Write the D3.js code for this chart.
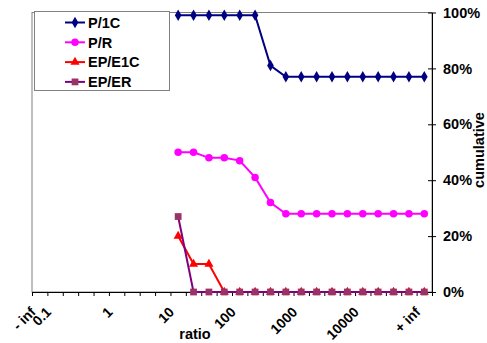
<!DOCTYPE html>
<meta charset="utf-8">
<script src="https://d3js.org/d3.v7.min.js"></script>
<style>
  body { margin: 0; background: #fff; }
  text { font-family: "Liberation Sans", Arial, sans-serif; font-weight: bold; }
</style>
<body>
<div id="chart"></div>
<script>
// categories on the ratio axis (26 slots, most unlabeled)
const ratioLabels = ["- inf", "0.1", "", "", "", "1", "", "", "", "10", "", "", "", "100",
  "", "", "", "1000", "", "", "", "10000", "", "", "", "+ inf"];
// series start at the "10" category
const firstCat = 9;
const seriesNames = ["P/1C", "P/R", "EP/E1C", "EP/ER"];
const p1c  = [99, 99, 99, 99, 99, 99, 81, 77, 77, 77, 77, 77, 77, 77, 77, 77, 77];
const pr   = [50, 50, 48, 48, 47, 41, 32, 28, 28, 28, 28, 28, 28, 28, 28, 28, 28];
const ep1c = [20, 10, 10, 0, 0, 0, 0, 0, 0, 0, 0, 0, 0, 0, 0, 0, 0];
const eper = [27, 0, 0, 0, 0, 0, 0, 0, 0, 0, 0, 0, 0, 0, 0, 0, 0];
const yTicks = [0, 20, 40, 60, 80, 100];

const W = 487, H = 343;
const L = 32, R = 432, T = 12.5, B = 292;

const svg = d3.select("#chart").append("svg")
  .attr("width", W).attr("height", H);

const x = d3.scaleBand()
  .domain(d3.range(ratioLabels.length))
  .range([L, R])
  .padding(0);
const xEdge = d3.scaleLinear()
  .domain([0, ratioLabels.length])
  .range([L, R]);
const y = d3.scaleLinear()
  .domain([0, 100])
  .range([B, T]);

// plot area border
svg.append("rect")
  .attr("x", L).attr("y", T)
  .attr("width", R - L).attr("height", B - T)
  .attr("fill", "none")
  .attr("stroke", "#808080")
  .attr("stroke-width", 1);

// bottom axis: ticks at category edges
svg.append("g")
  .attr("transform", `translate(0,${B})`)
  .call(d3.axisBottom(xEdge).tickValues(d3.range(ratioLabels.length + 1))
    .tickFormat("").tickSizeInner(4).tickSizeOuter(0))
  .call(g => g.selectAll("line, path").attr("stroke", "#000"));

// bottom labels, rotated
const xLab = svg.append("g")
  .attr("transform", `translate(0,${B})`)
  .call(d3.axisBottom(x).tickSize(0).tickFormat(i => ratioLabels[i]));
xLab.select(".domain").remove();
xLab.selectAll("text")
  .attr("font-size", 14)
  .attr("fill", "#000")
  .style("text-anchor", "end")
  .attr("transform", "translate(-9,15) rotate(-45)")
  .attr("dy", "0.6em")
  .attr("y", 0);

// right axis
const yAx = svg.append("g")
  .attr("transform", `translate(${R},0)`)
  .call(d3.axisRight(y).tickValues(yTicks).tickFormat(d => d + "%")
    .tickSizeInner(4).tickSizeOuter(0));
yAx.selectAll("line, path").attr("stroke", "#000");
yAx.selectAll("line").attr("x1", -4);
yAx.selectAll("text")
  .attr("font-size", 14.5)
  .attr("fill", "#000")
  .attr("x", 11);

// axis titles
svg.append("text")
  .attr("x", 195).attr("y", 339)
  .attr("text-anchor", "middle")
  .attr("font-size", 14.5)
  .text("ratio");
svg.append("text")
  .attr("transform", "translate(484,150) rotate(-90)")
  .attr("text-anchor", "middle")
  .attr("font-size", 14.5)
  .text("cumulative");

const series = [
  { name: seriesNames[0], values: p1c,  line: "#000080", fill: "#000080", shape: d3.symbolDiamond, size: 38 },
  { name: seriesNames[1], values: pr,   line: "#FF00FF", fill: "#FF00FF", shape: d3.symbolCircle, size: 44 },
  { name: seriesNames[2], values: ep1c, line: "#FF0000", fill: "#FF0000", shape: d3.symbolTriangle, size: 36 },
  { name: seriesNames[3], values: eper, line: "#800080", fill: "#993366", shape: d3.symbolSquare, size: 46 }
];

const cx = i => x(firstCat + i) + x.bandwidth() / 2;
const line = d3.line().x((d, i) => cx(i)).y(d => y(d));

series.forEach(s => {
  const g = svg.append("g");
  g.append("path")
    .datum(s.values)
    .attr("d", line)
    .attr("fill", "none")
    .attr("stroke", s.line)
    .attr("stroke-width", 2);
  g.selectAll("path.m")
    .data(s.values)
    .join("path")
    .attr("class", "m")
    .attr("transform", (d, i) => `translate(${cx(i)},${y(d)})`)
    .attr("d", d3.symbol(s.shape, s.size))
    .attr("fill", s.fill);
});

// legend
const lg = svg.append("g");
lg.append("rect")
  .attr("x", 34.5).attr("y", 11.5)
  .attr("width", 135).attr("height", 79)
  .attr("fill", "#fff")
  .attr("stroke", "#808080");
series.forEach((s, i) => {
  const ly = 22.5 + i * 19.8;
  lg.append("line")
    .attr("x1", 65).attr("x2", 85)
    .attr("y1", ly).attr("y2", ly)
    .attr("stroke", s.line).attr("stroke-width", 2);
  lg.append("path")
    .attr("transform", `translate(75,${ly})`)
    .attr("d", d3.symbol(s.shape, s.size))
    .attr("fill", s.fill);
  lg.append("text")
    .attr("x", 88).attr("y", ly)
    .attr("dy", "0.36em")
    .attr("font-size", 14.5)
    .text(s.name);
});
</script>
</body>
